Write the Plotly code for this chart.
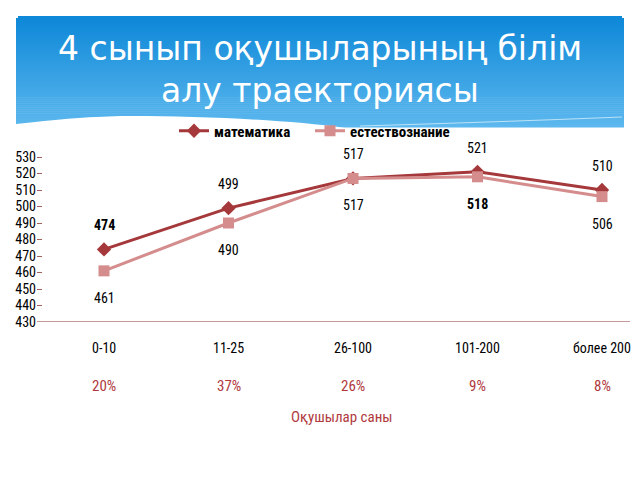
import plotly.graph_objects as go

categories = ["0-10", "11-25", "26-100", "101-200", "более 200"]
math_vals = [474, 499, 517, 521, 510]
sci_vals = [461, 490, 517, 518, 506]
percents = ["20%", "37%", "26%", "9%", "8%"]
series_names = ["математика", "естествознание"]
title_lines = ["4 сынып оқушыларының білім", "алу траекториясы"]
x_title = "Оқушылар саны"
math_bold = [True, False, False, False, False]
sci_bold = [False, False, False, True, False]

W, H = 640, 480
L, R, T, B = 37, 10, 140, 158
PW = W - L - R
PH = H - T - B

def px(xp):
    return (xp - L) / PW

def py(yp):
    return (H - B - yp) / PH

NARROW = "Liberation Sans Narrow, Arial Narrow, Roboto Condensed, Liberation Sans, sans-serif"
MATH_C = "#a5383a"
SCI_C = "#d48c8c"
RED_T = "#b03a3e"

xs = list(range(len(categories)))

fig = go.Figure()
fig.add_trace(go.Scatter(
    x=xs, y=math_vals, name=series_names[0], mode="lines+markers",
    line=dict(color=MATH_C, width=3),
    marker=dict(symbol="diamond", size=11, color=MATH_C),
    legend="legend",
))
fig.add_trace(go.Scatter(
    x=xs, y=sci_vals, name=series_names[1], mode="lines+markers",
    line=dict(color=SCI_C, width=3),
    marker=dict(symbol="square", size=11, color=SCI_C),
    legend="legend2",
))

shapes = []
# header gradient bands
top_c = (14, 136, 216)
bot_c = (92, 184, 238)
hx0, hx1, hy0, hy1 = 16, 624, 16, 127
n = 56
for i in range(n):
    t = i / (n - 1)
    c = tuple(int(top_c[k] + (bot_c[k] - top_c[k]) * t) for k in range(3))
    ya = hy0 + (hy1 - hy0) * i / n
    yb = hy0 + (hy1 - hy0) * (i + 1) / n + 0.6
    x0, x1 = hx0, hx1
    if i == 0:
        x0, x1 = hx0 + 2, hx1 - 2
    shapes.append(dict(type="rect", xref="paper", yref="paper",
                       x0=px(x0), x1=px(x1), y0=py(yb), y1=py(ya),
                       fillcolor="rgb(%d,%d,%d)" % c, line=dict(width=0), layer="below"))
# white wave
path = "M %f,%f " % (px(16), py(128))
path += "L %f,%f " % (px(16), py(124))
path += "C %f,%f %f,%f %f,%f " % (px(70), py(118), px(100), py(116), px(133), py(116))
path += "C %f,%f %f,%f %f,%f " % (px(200), py(116), px(290), py(120), px(345), py(128))
path += "Z"
shapes.append(dict(type="path", xref="paper", yref="paper", path=path,
                   fillcolor="white", line=dict(width=0), layer="below"))
# faint wave line on the right
shapes.append(dict(type="path", xref="paper", yref="paper",
                   path="M %f,%f Q %f,%f %f,%f" % (px(360), py(126), px(500), py(122), px(622), py(117)),
                   line=dict(color="rgba(255,255,255,0.6)", width=1), layer="below"))

annotations = []
for i, line in enumerate(title_lines):
    annotations.append(dict(text=line, xref="paper", yref="paper", x=px(320), y=py(48 + 42 * i),
                            xanchor="center", yanchor="middle", showarrow=False,
                            font=dict(family="DejaVu Sans, sans-serif", size=33, color="white")))
for i, v in enumerate(math_vals):
    annotations.append(dict(x=xs[i], y=v, text=("<b>%d</b>" % v) if math_bold[i] else str(v),
                            showarrow=False, yshift=24,
                            font=dict(family=NARROW, size=14, color="black")))
for i, v in enumerate(sci_vals):
    annotations.append(dict(x=xs[i], y=v, text=("<b>%d</b>" % v) if sci_bold[i] else str(v),
                            showarrow=False, yshift=-27,
                            font=dict(family=NARROW, size=14, color="black")))
for i, c in enumerate(categories):
    annotations.append(dict(x=xs[i], xref="x", yref="paper", y=py(348), text=c, showarrow=False,
                            yanchor="middle", font=dict(family=NARROW, size=14, color="black")))
for i, p in enumerate(percents):
    annotations.append(dict(x=xs[i], xref="x", yref="paper", y=py(386), text=p, showarrow=False,
                            yanchor="middle", font=dict(family=NARROW, size=15, color=RED_T)))
annotations.append(dict(x=px(342), xref="paper", yref="paper", y=py(417), text=x_title, showarrow=False,
                        yanchor="middle", font=dict(family=NARROW, size=15, color=RED_T)))

x_per = 124.5
x_lo = -(104 - L) / x_per
x_hi = x_lo + PW / x_per
y_per = 1.65
y_hi = 430 + PH / y_per

leg_common = dict(orientation="h", y=py(131), xanchor="left", yanchor="middle",
                  font=dict(family=NARROW, size=15, color="black", weight="bold"),
                  bgcolor="rgba(0,0,0,0)", itemwidth=30)

fig.update_layout(
    width=W, height=H,
    margin=dict(l=L, r=R, t=T, b=B, pad=0),
    paper_bgcolor="white", plot_bgcolor="white",
    showlegend=True,
    legend=dict(x=px(174), **leg_common),
    legend2=dict(x=px(310), **leg_common),
    xaxis=dict(range=[x_lo, x_hi], showticklabels=False, showgrid=False, zeroline=False,
               showline=False, ticks=""),
    yaxis=dict(range=[430, y_hi], tickvals=list(range(430, 531, 10)), showgrid=False, zeroline=False,
               showline=False, ticks="inside", ticklen=5, tickcolor="#a06060", tickwidth=1,
               tickfont=dict(family=NARROW, size=14, color="black")),
    shapes=shapes + [dict(type="line", xref="paper", yref="y", x0=0, x1=1, y0=430, y1=430,
                          line=dict(color="#b07a7a", width=1.5))],
    annotations=annotations,
)

fig.write_html("out.html")
